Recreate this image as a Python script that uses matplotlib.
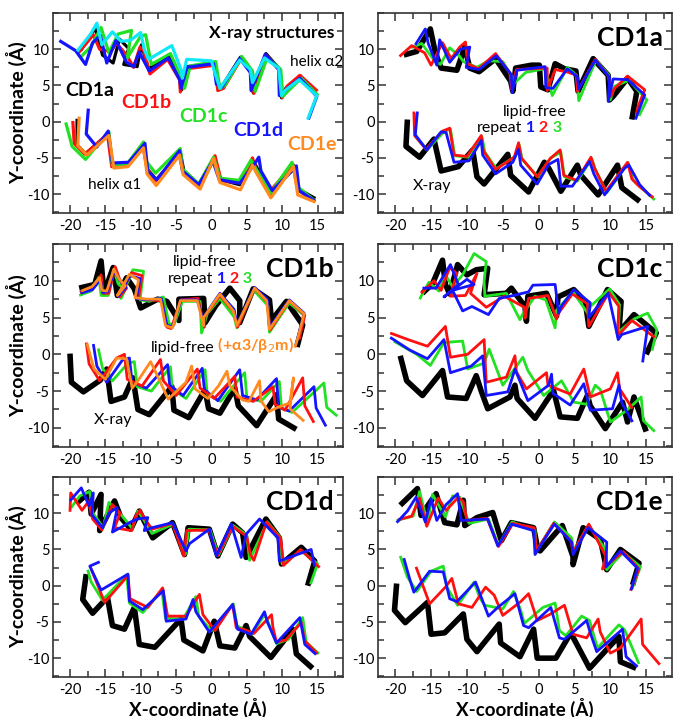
import matplotlib
matplotlib.use("Agg")
import matplotlib.pyplot as plt
from matplotlib.ticker import MultipleLocator

plt.rcParams['font.family'] = ['Lato', 'Open Sans', 'DejaVu Sans']
plt.rcParams['axes.unicode_minus'] = False

# colours
BLACK = '#000000'
RED = '#ff1010'
GREEN = '#22e022'
BLUE = '#1414ff'
ORANGE = '#ff8a1f'
CYAN = '#10e8f8'

# ---------------- panel 1: X-ray structures (helix a2 top, helix a1 bottom) ----------------
p1_a2_cd1a = ([-18.5,-16.4,-15.4,-13.9,-13.0,-11.7,-12.4,-10.5,-9.9,-8.9,-6.0,-4.4,-4.2,-3.4,0.4,0.9,1.5,4.1,5.6,5.9,7.7,9.6,9.9,10.5,12.6,14.8],
              [9.8,12.9,9.2,8.1,11.4,10.1,7.9,7.6,10.6,7.3,9.2,6.1,4.4,7.6,8.1,4.6,4.9,8.9,6.9,4.0,9.4,7.3,3.3,4.6,6.3,3.7])
p1_a2_cd1b = ([-18.8,-16.7,-15.8,-14.3,-13.4,-12.0,-11.0,-10.1,-9.6,-8.7,-6.2,-4.5,-4.4,-3.6,0.5,0.9,1.7,4.2,5.7,6.0,7.8,9.7,10.0,10.7,12.5,15.0],
              [9.5,12.0,10.0,9.7,10.8,9.2,7.5,10.3,9.9,6.6,8.6,5.8,4.1,7.3,7.8,4.3,4.6,8.7,6.6,3.9,9.1,7.0,3.3,4.9,6.4,4.2])
p1_a2_cd1c = ([-18.6,-17.0,-15.6,-14.5,-13.2,-11.3,-11.9,-10.0,-9.3,-8.5,-5.8,-4.0,-3.8,-3.0,0.6,1.2,1.9,4.3,5.8,6.2,7.9,9.8,10.1,10.8,12.7,15.1],
              [8.8,10.4,13.0,9.5,12.1,12.6,8.8,11.8,12.0,7.9,9.4,5.5,4.6,7.7,8.3,4.6,5.0,9.0,7.0,4.2,8.9,7.2,3.5,4.2,6.0,3.6])
p1_a2_cd1d = ([-21.5,-19.2,-17.8,-16.8,-15.7,-14.8,-13.5,-12.0,-11.0,-10.2,-8.8,-6.1,-4.5,-4.3,-3.5,0.3,0.7,1.5,4.0,5.5,5.6,7.6,9.5,9.6,10.4,12.5,14.9,13.7],
              [11.2,9.8,7.9,10.9,11.9,8.1,11.2,8.2,7.6,9.6,7.0,8.8,5.8,4.6,7.5,8.0,5.2,4.8,8.7,6.8,4.3,9.3,7.2,3.6,4.3,6.0,3.5,0.3])
p1_a2_cd1e = ([-19.0,-17.0,-16.2,-15.5,-14.0,-12.8,-11.5,-10.0,-9.5,-8.9,-5.6,-4.3,-4.1,-3.5,0.0,0.6,1.2,4.0,5.5,5.8,7.5,9.5,9.9,10.4,12.4,14.9,13.6],
              [9.7,12.2,13.6,10.6,12.4,11.1,11.2,12.3,10.0,8.6,10.5,7.2,6.0,8.6,8.4,6.4,4.6,8.5,7.2,5.4,8.8,7.4,3.6,4.3,5.8,3.6,0.3])

p1_a1_cd1a = ([-19.0,-19.0,-17.8,-14.6,-14.0,-11.8,-9.6,-9.0,-7.8,-4.4,-3.9,-1.6,0.4,1.3,4.0,6.0,6.4,8.4,11.6,12.3,14.7],
              [0.4,-3.2,-4.4,-1.8,-6.0,-5.9,-3.2,-6.6,-8.0,-4.2,-6.8,-8.8,-5.1,-8.0,-8.7,-5.6,-6.3,-9.9,-6.0,-9.3,-10.6])
p1_a1_cd1b = ([-19.6,-19.4,-17.9,-14.7,-14.1,-11.7,-9.7,-9.1,-7.9,-4.6,-4.0,-1.7,0.5,1.4,4.1,5.8,6.3,8.3,11.5,12.2,14.6],
              [0.1,-3.0,-4.5,-1.7,-6.2,-5.8,-3.3,-6.5,-8.2,-4.4,-7.0,-9.0,-4.7,-8.2,-8.4,-5.0,-6.6,-9.6,-5.9,-9.4,-11.0])
p1_a1_cd1c = ([-20.6,-19.7,-17.8,-14.5,-14.0,-11.9,-9.6,-9.2,-7.9,-4.4,-4.1,-1.8,0.3,1.2,3.9,5.6,6.1,8.4,11.4,12.2,14.6],
              [-0.1,-3.4,-5.2,-1.4,-6.0,-5.8,-2.8,-5.5,-7.1,-3.7,-6.5,-8.6,-4.9,-7.8,-8.1,-5.3,-6.2,-9.8,-5.6,-9.0,-10.9])
p1_a1_cd1d = ([-17.4,-17.7,-16.2,-14.6,-14.0,-11.7,-9.4,-9.0,-7.7,-4.5,-4.1,-1.8,0.2,1.1,4.0,5.9,6.7,7.0,8.6,11.6,12.0,12.4,14.7],
              [1.8,-1.7,-3.5,-1.3,-5.7,-5.6,-3.0,-6.9,-8.0,-4.0,-6.8,-8.7,-5.4,-8.0,-8.5,-6.1,-4.9,-6.8,-9.5,-6.6,-6.1,-9.5,-11.0])
p1_a1_cd1e = ([-18.7,-18.9,-17.6,-14.5,-13.8,-11.8,-9.6,-9.1,-7.8,-4.5,-4.0,-1.6,0.3,1.2,4.1,5.8,6.2,8.4,11.6,12.2,14.7],
              [0.7,-3.3,-4.6,-1.9,-6.4,-6.2,-3.6,-7.2,-8.8,-4.6,-7.3,-9.3,-5.1,-8.4,-9.4,-6.0,-6.8,-10.5,-6.2,-10.1,-11.1])

# ---------------- panel 2: CD1a (X-ray vs lipid-free repeats) ----------------
p2_a2_xray = ([-18.8,-17.0,-15.1,-14.4,-13.6,-11.4,-10.3,-9.6,-8.3,-6.0,-3.9,-3.6,-3.2,-1.0,0.1,0.3,1.3,2.3,3.6,5.2,5.5,7.6,9.7,9.9,10.4,12.4,13.7,13.0],
              [9.2,9.7,12.8,9.5,7.4,7.1,10.3,7.4,6.9,8.7,5.6,4.2,7.4,7.8,7.8,4.8,4.4,8.0,7.3,7.0,4.2,8.7,6.4,3.0,3.5,6.0,4.2,0.3])
p2_a2_rep2 = ([-19.4,-17.7,-15.9,-15.0,-13.4,-12.2,-11.0,-10.2,-9.9,-8.4,-6.0,-4.0,-3.8,-3.1,1.2,1.2,2.3,4.2,5.3,5.4,7.9,9.8,10.1,10.5,12.4,14.8,13.9,13.6],
              [9.0,10.5,9.5,7.8,10.9,8.7,10.3,11.0,8.0,7.3,9.4,6.7,4.5,7.2,7.4,4.3,7.2,6.8,6.4,4.2,8.6,6.2,3.5,4.5,6.3,4.4,2.2,1.0])
p2_a2_rep3 = ([-17.8,-16.3,-14.6,-13.7,-12.4,-11.0,-10.5,-8.6,-7.0,-5.0,-3.7,-3.4,-1.8,0.8,1.3,1.9,4.0,5.3,5.6,8.0,9.8,10.0,10.6,12.6,15.1,14.0],
              [10.2,10.8,8.5,7.9,10.2,9.0,8.3,7.5,8.4,8.3,6.2,5.3,6.8,7.3,6.0,3.6,7.5,6.4,2.9,8.5,6.4,3.0,4.9,5.7,3.0,0.8])
p2_a2_rep1 = ([-17.2,-15.8,-15.4,-14.2,-13.8,-12.4,-10.9,-9.6,-10.1,-8.3,-5.9,-3.8,-3.7,-3.0,0.9,1.0,2.0,4.0,5.4,5.6,7.9,9.9,9.7,10.4,12.4,14.8,13.5],
              [10.6,12.8,10.8,7.8,11.3,8.2,10.0,10.3,7.5,7.2,9.1,6.5,4.0,7.1,7.6,4.7,4.6,7.3,6.2,4.5,8.5,6.1,2.8,5.9,5.8,3.7,0.3])

p2_a1_xray = ([-18.3,-18.5,-16.6,-14.6,-13.6,-11.2,-9.2,-8.6,-7.6,-4.3,-3.9,-1.4,0.8,1.4,3.1,5.4,5.9,8.3,11.0,11.6,14.1],
              [0.3,-3.4,-4.9,-2.4,-6.8,-6.2,-3.9,-7.6,-8.6,-4.5,-7.4,-9.7,-5.6,-6.4,-9.6,-6.0,-7.4,-10.1,-6.0,-9.1,-11.0])
p2_a1_rep2 = ([-17.4,-17.3,-15.7,-13.4,-12.4,-11.8,-10.0,-8.0,-7.7,-6.0,-3.4,-2.8,-2.4,-0.2,1.6,3.0,3.5,5.3,7.3,7.8,9.4,12.4,13.0,14.0,16.0],
              [1.4,-1.9,-3.8,-1.3,-0.9,-4.6,-4.8,-1.9,-4.0,-6.6,-4.9,-2.9,-5.0,-7.6,-5.1,-3.9,-7.4,-8.1,-4.9,-6.4,-9.6,-5.6,-7.9,-8.9,-10.5])
p2_a1_rep3 = ([-17.2,-17.2,-15.6,-13.2,-12.3,-11.7,-9.8,-7.9,-7.5,-5.9,-3.3,-2.7,-2.3,-0.1,1.7,3.1,3.6,5.4,7.4,7.9,9.5,12.5,13.2,14.3,16.2],
              [1.2,-2.0,-3.9,-1.4,-1.0,-4.7,-4.9,-2.1,-4.2,-6.5,-4.8,-3.2,-5.2,-7.6,-5.0,-4.2,-7.6,-8.2,-5.1,-6.6,-9.8,-5.7,-8.1,-9.1,-10.8])
p2_a1_rep1 = ([-16.9,-17.2,-15.6,-13.6,-12.9,-11.8,-9.7,-8.0,-7.8,-6.0,-3.6,-2.8,-2.5,-0.2,1.4,2.7,3.1,4.7,7.1,7.7,9.2,12.0,12.6,14.1,15.6],
              [1.4,-1.8,-3.9,-1.4,-1.5,-5.6,-5.4,-2.6,-4.6,-7.2,-5.6,-3.8,-6.0,-8.6,-5.9,-5.2,-8.9,-8.9,-5.5,-7.2,-10.1,-6.4,-6.0,-8.7,-10.3])

# ---------------- panel 3: CD1b ----------------
p3_a2_xray = ([-18.7,-16.5,-15.6,-15.2,-13.9,-13.3,-12.0,-10.9,-10.0,-7.6,-6.3,-4.6,-4.6,-1.1,-0.9,0.6,2.6,4.0,4.0,5.9,8.2,8.5,10.6,12.9,12.1],
              [9.0,9.5,12.7,8.3,11.8,8.0,10.4,8.9,6.3,7.5,7.2,4.6,7.5,7.6,4.3,6.6,9.0,7.3,4.3,8.9,7.4,4.6,7.2,4.0,1.0])
p3_a2_rep3 = ([-18.7,-17.0,-15.9,-15.6,-14.6,-13.8,-13.2,-12.2,-12.8,-11.1,-9.6,-10.1,-8.8,-6.8,-6.0,-5.3,-4.1,-1.6,-1.4,-0.6,1.2,3.2,3.6,6.0,8.0,8.2,11.0,13.2],
              [8.0,8.6,10.5,8.0,8.0,11.5,9.6,8.8,7.6,11.5,11.3,7.4,7.2,7.8,4.2,4.0,7.2,7.2,2.9,5.5,7.6,5.1,3.6,8.7,6.6,3.0,7.0,5.2])
p3_a2_rep2 = ([-18.6,-16.8,-15.6,-15.3,-14.5,-13.6,-12.9,-12.0,-13.0,-11.3,-9.8,-10.3,-9.0,-7.0,-6.3,-5.7,-4.3,-1.9,-1.0,-0.9,1.2,3.2,3.7,6.1,7.9,8.3,11.0,13.2,12.4],
              [8.4,9.0,10.8,8.3,8.3,11.9,10.0,9.0,7.8,11.1,10.7,7.6,7.4,7.3,3.7,3.5,7.4,7.6,3.7,5.2,8.0,5.7,3.7,9.0,7.1,3.3,7.3,5.3,2.0])
p3_a2_rep1 = ([-18.5,-16.8,-15.7,-15.4,-14.7,-13.7,-13.0,-12.1,-13.2,-11.5,-10.1,-10.6,-9.1,-7.1,-6.3,-5.5,-4.3,-2.0,-1.0,-1.0,1.2,3.2,3.6,6.1,7.9,8.2,11.0,13.1,12.3,11.9],
              [8.3,8.8,10.2,8.4,8.5,11.4,10.1,9.1,7.9,10.7,10.3,7.6,7.4,7.6,4.0,3.7,7.4,7.4,4.0,5.2,8.3,6.1,4.0,9.1,7.5,3.6,7.4,5.6,2.6,1.2])
p3_a2_b2m = ([-18.4,-16.9,-15.8,-15.5,-14.8,-13.8,-13.1,-12.2,-13.3,-11.6,-10.3,-10.8,-9.2,-7.2,-6.5,-5.5,-4.4,-2.0,-1.1,-1.1,1.2,3.1,3.6,6.1,7.8,8.2,11.0,13.1,12.3,11.8],
             [8.6,9.2,10.4,8.7,8.6,11.6,10.3,9.3,8.0,10.9,10.1,7.7,7.5,7.5,3.9,3.6,7.3,7.3,3.9,5.0,8.2,5.9,3.9,9.0,7.3,3.4,7.3,5.5,2.5,0.9])

p3_a1_xray = ([-20.0,-19.8,-18.1,-15.7,-14.8,-14.2,-12.3,-11.1,-10.4,-8.8,-5.6,-5.3,-3.2,-0.9,-0.4,1.2,3.3,3.8,6.4,9.2,9.5,12.0],
              [0.1,-3.8,-5.1,-3.5,-2.0,-6.4,-5.8,-3.2,-7.5,-8.2,-4.4,-7.6,-8.6,-4.8,-7.4,-8.0,-4.6,-7.0,-9.7,-5.5,-8.8,-10.2])
p3_a1_rep3 = ([-16.0,-15.4,-14.0,-11.8,-10.9,-10.5,-8.5,-5.8,-5.5,-3.6,-0.9,-0.6,1.3,4.7,5.0,7.0,9.6,9.9,11.4,15.9,16.3,17.8],
              [0.8,-1.9,-3.6,-1.2,-1.0,-4.4,-5.0,-1.7,-4.8,-6.0,-2.1,-5.4,-6.4,-2.5,-5.8,-6.4,-3.7,-7.3,-7.9,-3.9,-7.2,-8.4])
p3_a1_rep1 = ([-16.7,-16.2,-14.8,-12.6,-11.6,-11.2,-9.2,-6.2,-5.9,-4.0,-1.3,-1.0,0.9,4.0,4.4,6.4,9.2,9.5,11.0,14.5,14.8,16.2],
              [1.4,-1.6,-3.8,-0.8,-0.5,-3.8,-4.6,-1.4,-4.2,-5.6,-1.9,-4.8,-6.3,-2.1,-5.6,-6.2,-3.3,-7.2,-7.7,-4.4,-7.3,-9.8])
p3_a1_rep2 = ([-17.7,-17.3,-15.8,-13.4,-12.3,-11.9,-9.8,-7.2,-6.8,-5.0,-2.0,-1.6,0.4,3.3,3.6,5.9,8.7,9.0,10.4,12.9,13.2,14.5],
              [1.6,-1.3,-3.6,-0.5,0.0,-3.4,-4.3,-0.7,-3.6,-5.6,-2.0,-4.6,-6.0,-3.0,-5.8,-6.4,-4.4,-6.8,-7.6,-3.2,-7.0,-9.3])
p3_a1_b2m = ([-17.6,-16.6,-15.0,-13.4,-12.0,-11.2,-10.4,-8.6,-7.9,-6.1,-3.6,-2.8,-2.3,-0.5,1.0,2.2,2.6,4.4,5.3,6.8,7.0,8.1,9.4,11.1,11.6,11.1,13.1],
             [1.5,-2.0,-3.4,-0.5,-0.6,-4.6,-3.6,-1.0,-2.4,-6.1,-3.8,-1.6,-4.7,-6.0,-4.3,-2.3,-4.3,-6.2,-6.4,-3.6,-6.3,-7.8,-7.2,-6.6,-3.2,-7.4,-9.1])

# ---------------- panel 4: CD1c ----------------
p4_a2_xray = ([-16.2,-14.8,-13.4,-13.0,-12.4,-11.3,-10.0,-8.7,-7.1,-7.6,-4.5,-3.8,-1.9,-1.7,-1.5,1.1,2.5,2.7,4.9,6.5,7.0,9.6,11.5,11.2,13.3,16.4,15.0],
              [8.3,9.6,12.8,9.5,8.2,12.2,10.8,11.5,11.7,8.1,8.3,9.0,6.5,4.5,7.9,8.3,5.2,7.8,8.8,7.2,3.8,8.8,7.2,3.0,5.4,2.9,0.0])
p4_a2_rep3 = ([-16.6,-15.3,-13.9,-13.0,-12.0,-10.6,-9.0,-7.3,-7.6,-7.5,-4.5,-2.6,-2.2,-0.5,1.0,2.3,2.5,4.8,6.9,7.2,9.9,11.3,11.1,13.3,15.2,16.5,15.8],
              [7.5,9.8,8.6,10.8,9.2,10.8,13.7,12.6,10.0,7.9,8.3,4.7,5.5,7.9,7.4,3.6,6.0,8.5,5.5,6.5,8.9,6.7,3.0,4.8,5.6,3.3,0.5])
p4_a2_rep2 = ([-16.4,-14.6,-13.6,-12.4,-11.4,-12.3,-10.2,-8.6,-9.5,-7.3,-4.8,-2.0,-1.9,-1.4,1.3,2.5,2.7,4.7,6.8,7.0,9.8,11.2,11.0,13.0,16.2],
              [8.3,10.0,8.7,11.8,11.0,7.9,8.0,11.0,8.3,6.4,7.9,6.4,4.9,7.6,8.0,4.8,5.5,8.2,6.9,3.8,8.4,6.5,2.5,4.6,2.3])
p4_a2_rep1 = ([-16.2,-14.3,-12.3,-11.2,-13.2,-10.0,-9.0,-12.0,-10.6,-9.3,-7.0,-5.5,-3.5,-1.4,-0.8,2.3,2.8,3.2,4.9,7.2,7.0,9.7,11.1,11.6,15.2,14.5],
              [9.0,9.0,12.2,9.5,7.8,10.2,9.5,8.7,5.9,6.5,5.4,7.6,8.0,8.5,9.4,9.5,5.6,6.6,8.8,7.0,5.0,8.3,2.0,2.7,3.8,-1.1])

p4_a1_xray = ([-19.3,-18.4,-16.2,-13.4,-12.7,-10.1,-8.7,-8.0,-7.1,-4.0,-3.3,-3.0,-0.5,1.6,2.0,3.0,5.4,6.8,7.2,9.3,11.7,12.4,13.3,15.0],
              [-0.2,-3.6,-5.6,-2.2,-5.8,-6.0,-2.9,-5.0,-7.4,-5.8,-4.2,-6.0,-8.7,-5.6,-4.6,-8.5,-8.7,-5.6,-7.0,-10.1,-6.5,-9.2,-5.8,-10.5])
p4_a1_rep3 = ([-20.2,-17.0,-15.1,-13.2,-10.6,-9.9,-7.6,-6.9,-5.0,-2.2,-1.5,0.7,3.2,4.9,6.7,7.9,8.6,10.0,12.3,14.3,14.6,16.2],
              [1.8,0.0,-1.5,1.6,1.8,-2.0,-1.2,0.7,-4.2,-0.4,-2.2,-5.6,-3.6,-6.5,-6.8,-4.2,-4.8,-9.2,-7.6,-5.8,-9.0,-10.5])
p4_a1_rep2 = ([-20.7,-18.2,-15.5,-13.0,-12.3,-9.9,-7.6,-7.3,-4.5,-3.3,-3.1,-1.7,1.1,1.3,4.4,6.3,7.2,10.0,11.0,11.3,13.1],
              [2.9,2.0,1.1,3.8,-0.4,0.0,2.0,-3.8,-3.1,-0.2,-2.4,-4.7,-2.5,-4.2,-5.4,-2.0,-5.8,-4.7,-2.5,-4.7,-7.4])
p4_a1_rep1 = ([-20.7,-18.0,-15.5,-13.2,-12.3,-9.4,-7.8,-7.3,-4.3,-3.3,-1.5,1.4,1.8,2.0,4.4,6.3,7.2,10.3,11.2,11.6,13.1],
              [2.3,0.6,-0.6,2.0,-2.5,-1.6,-0.2,-5.6,-5.1,-2.0,-6.3,-4.2,-2.7,-5.3,-6.9,-4.0,-7.6,-7.4,-4.2,-6.6,-9.2])

# ---------------- panel 5: CD1d ----------------
p5_a2_xray = ([-18.9,-17.3,-17.0,-15.6,-15.8,-13.7,-12.8,-11.4,-10.2,-9.8,-8.3,-5.5,-3.8,-3.3,-0.3,0.9,3.0,4.4,4.9,7.7,9.6,9.9,12.7,14.6,13.6],
              [11.5,12.9,9.9,12.6,7.6,11.7,9.4,7.8,10.3,9.5,6.6,8.7,4.3,8.0,7.8,4.1,8.5,7.3,3.9,9.2,6.6,3.0,5.3,3.4,0.0])
p5_a2_rep3 = ([-19.9,-18.6,-17.2,-16.8,-15.3,-14.5,-12.7,-11.2,-10.4,-9.7,-8.4,-5.4,-3.7,-3.2,-0.2,1.0,3.1,5.0,5.4,7.9,9.7,10.0,12.7,15.0,14.0],
              [10.7,12.4,13.0,10.1,8.0,11.5,9.7,7.9,10.3,9.3,7.2,8.5,4.3,7.8,7.7,4.2,8.3,7.0,3.5,8.8,6.7,3.0,4.8,3.0,0.2])
p5_a2_rep2 = ([-20.0,-19.9,-18.3,-17.4,-16.8,-15.5,-14.0,-12.9,-13.7,-11.3,-10.7,-10.1,-9.4,-8.4,-5.5,-3.9,-3.5,-0.4,0.9,3.0,5.0,5.5,6.0,7.8,9.8,10.2,12.6,15.3],
              [10.2,12.8,10.4,11.6,9.2,7.7,11.2,10.0,8.0,7.6,9.6,10.4,9.2,7.8,8.6,4.1,7.6,7.7,4.2,8.2,6.8,4.3,3.5,8.8,6.5,2.8,5.0,2.5])
p5_a2_rep1 = ([-20.0,-18.4,-17.3,-16.7,-16.9,-15.4,-14.5,-13.3,-14.0,-11.4,-10.5,-9.0,-9.5,-8.4,-5.5,-3.6,-3.1,-0.3,0.3,0.7,2.8,4.2,4.9,6.8,9.4,9.6,14.1,14.6],
              [11.7,13.5,11.0,12.8,9.8,8.0,10.0,10.8,7.4,8.8,9.2,9.4,7.6,8.0,8.7,4.8,5.8,7.8,5.6,4.1,8.5,3.9,7.1,9.2,6.6,3.4,5.0,2.6])

p5_a1_xray = ([-17.7,-18.2,-16.8,-14.7,-14.0,-12.3,-10.9,-10.2,-8.0,-4.3,-3.9,-1.2,0.4,1.2,3.3,4.9,5.4,8.4,11.5,12.0,14.3],
              [1.6,-1.9,-3.8,-1.6,-5.5,-6.0,-3.0,-8.1,-8.5,-4.6,-7.5,-9.0,-4.9,-8.3,-8.6,-5.5,-7.0,-9.9,-6.0,-9.4,-11.4])
p5_a1_rep3 = ([-17.5,-17.0,-15.4,-12.0,-11.6,-9.7,-7.0,-6.5,-4.0,-2.2,-1.8,0.0,3.1,3.6,5.7,7.5,8.0,9.2,10.9,12.9,13.4,15.2],
              [2.2,0.5,-2.0,1.5,-2.4,-3.7,-0.7,-4.5,-4.6,-1.5,-4.2,-6.2,-2.5,-5.5,-6.7,-4.0,-5.0,-8.0,-7.4,-4.4,-7.8,-9.4])
p5_a1_rep2 = ([-17.0,-15.1,-11.8,-11.5,-9.0,-6.9,-6.2,-3.6,-1.7,-1.2,0.5,3.0,3.5,4.8,6.0,8.5,8.7,9.2,10.5,12.7,13.2,15.0],
              [2.3,-2.3,1.4,-1.8,-3.0,-0.3,-4.2,-4.2,-1.2,-4.0,-6.2,-2.6,-5.8,-6.1,-6.6,-4.0,-5.8,-7.8,-7.5,-5.1,-7.6,-9.4])
p5_a1_rep1 = ([-15.8,-17.2,-15.6,-11.8,-11.6,-9.7,-6.8,-6.4,-3.6,-2.6,-2.2,-0.3,3.0,3.7,5.6,7.5,7.9,9.2,12.5,13.2,14.8],
              [3.3,2.7,-0.6,1.6,-2.1,-3.3,-0.7,-4.9,-4.6,-1.9,-3.6,-6.4,-2.6,-6.0,-6.7,-3.6,-5.0,-7.9,-4.4,-8.1,-9.5])

# ---------------- panel 6: CD1e ----------------
p6_a2_xray = ([-19.3,-16.9,-16.4,-14.3,-13.1,-11.4,-10.5,-10.3,-8.6,-6.4,-5.2,-3.8,-0.7,-0.2,0.2,3.3,4.8,4.8,6.2,8.6,9.5,11.4,14.0,13.1],
              [11.1,13.4,9.7,12.7,8.7,8.4,11.8,8.3,9.4,10.1,6.2,8.7,8.0,5.5,4.8,8.3,4.0,2.9,8.0,6.4,2.2,5.0,3.1,0.1])
p6_a2_rep3 = ([-19.8,-17.5,-16.6,-15.5,-14.8,-13.0,-12.0,-11.0,-9.7,-7.0,-5.6,-3.7,-0.5,-0.4,2.2,4.6,4.9,7.0,9.3,9.5,11.8,14.2,13.0],
              [9.0,9.6,13.0,8.6,12.6,9.5,12.4,12.2,8.6,9.2,5.6,8.8,7.6,4.6,8.8,6.6,4.8,8.4,5.0,2.2,4.6,2.6,-0.5])
p6_a2_rep2 = ([-19.6,-17.7,-16.6,-15.6,-14.0,-12.9,-11.2,-10.5,-10.0,-7.2,-5.6,-3.6,-0.6,-0.3,2.1,4.5,4.8,7.0,9.4,8.9,11.8,14.0,12.8],
              [9.1,9.6,12.1,8.2,12.1,10.4,12.2,11.6,9.0,9.3,5.4,8.6,8.0,4.8,8.6,6.2,4.6,8.5,4.0,2.3,4.7,2.3,-0.7])
p6_a2_rep1 = ([-19.8,-18.3,-17.1,-15.8,-15.0,-14.2,-12.9,-11.3,-10.8,-7.1,-5.7,-3.8,-0.7,-0.5,1.4,2.2,4.6,4.8,6.9,9.5,9.4,11.4,13.8,12.9],
              [8.7,10.3,12.2,8.8,12.0,9.0,11.2,12.7,9.0,9.2,5.5,8.5,7.6,4.3,7.3,8.5,6.0,4.3,8.0,6.0,2.6,4.8,2.4,-0.6])

p6_a1_xray = ([-19.8,-20.1,-18.6,-15.5,-15.0,-13.1,-10.5,-10.0,-8.6,-5.5,-5.3,-2.6,-0.7,-0.2,2.4,4.5,4.9,7.1,9.5,11.2,11.4,13.6],
              [0.3,-3.4,-5.1,-2.3,-6.7,-6.5,-3.9,-7.4,-9.1,-5.3,-7.9,-9.8,-6.0,-10.0,-10.0,-6.5,-7.3,-11.4,-8.8,-7.0,-10.5,-11.4])
p6_a1_rep3 = ([-19.3,-18.3,-17.0,-15.0,-13.3,-12.8,-11.3,-9.0,-8.2,-7.5,-5.0,-3.5,-2.5,-2.0,0.6,2.3,2.9,3.8,6.0,7.1,8.2,11.2,12.0,14.0],
              [4.1,1.2,-0.8,2.0,2.7,-0.2,-2.7,0.5,-1.7,-2.7,-3.2,-0.8,-3.4,-5.2,-3.0,-2.4,-6.2,-6.9,-4.2,-4.8,-8.6,-5.4,-6.1,-10.8])
p6_a1_rep2 = ([-17.1,-15.2,-13.0,-12.1,-11.2,-9.3,-7.4,-6.2,-5.0,-2.5,-1.4,-0.2,1.5,3.6,4.8,6.7,8.3,8.6,10.0,11.4,14.3,14.5,16.9],
              [2.6,-2.5,-0.2,1.0,-2.5,-3.0,-0.2,-1.3,-4.1,-2.2,-1.1,-4.8,-4.0,-2.7,-6.7,-7.2,-4.6,-6.4,-9.3,-8.6,-4.6,-8.1,-10.9])
p6_a1_rep1 = ([-18.8,-18.0,-17.4,-15.2,-13.3,-12.4,-11.4,-8.8,-8.0,-7.0,-5.7,-3.3,-2.1,-1.4,1.7,2.9,3.6,6.7,7.2,8.1,11.7,12.2,13.8],
              [3.8,1.0,-0.9,2.0,1.9,-1.8,-2.2,0.5,-1.6,-4.2,-3.0,-1.1,-5.5,-5.8,-3.0,-7.2,-7.4,-4.8,-6.5,-9.1,-6.0,-9.8,-11.2])

panel_titles = ['', 'CD1a', 'CD1b', 'CD1c', 'CD1d', 'CD1e']
x_ticks = [-20, -15, -10, -5, 0, 5, 10, 15]
y_ticks = [-10, -5, 0, 5, 10]

THICK = 4.0
THIN = 2.0

W, H = 674, 717
fig = plt.figure(figsize=(W / 100, H / 100), dpi=100)

# pixel boxes (left, top, right, bottom)
boxes = [(53, 13, 343, 213), (378, 13, 672, 213),
         (53, 244, 343, 447), (378, 244, 672, 447),
         (53, 477, 343, 677), (378, 477, 672, 677)]
axes = []
for (l, t, r, b) in boxes:
    ax = fig.add_axes([l / W, 1 - b / H, (r - l) / W, (b - t) / H])
    ax.set_xlim(-22.4, 18.6)
    ax.set_ylim(-12.6, 15.0)
    ax.set_xticks(x_ticks)
    ax.set_yticks(y_ticks)
    ax.xaxis.set_minor_locator(MultipleLocator(2.5))
    ax.yaxis.set_minor_locator(MultipleLocator(2.5))
    ax.tick_params(which='both', direction='in', top=True, right=True, labelsize=10.5,
                   color='#333333')
    ax.tick_params(axis='x', pad=4)
    ax.tick_params(axis='y', pad=2.5)
    ax.tick_params(which='major', length=6, width=1.1)
    ax.tick_params(which='minor', length=4, width=1.1)
    for s in ax.spines.values():
        s.set_linewidth(1.2)
        s.set_color('#333333')
    axes.append(ax)


def draw(ax, series, color, lw):
    ax.plot(series[0], series[1], color=color, lw=lw, solid_joinstyle='round', solid_capstyle='butt')


# panel 1
ax = axes[0]
for s, c in [(p1_a2_cd1a, BLACK), (p1_a2_cd1b, RED), (p1_a2_cd1c, GREEN), (p1_a2_cd1d, BLUE), (p1_a2_cd1e, CYAN),
             (p1_a1_cd1a, BLACK), (p1_a1_cd1b, RED), (p1_a1_cd1c, GREEN), (p1_a1_cd1d, BLUE), (p1_a1_cd1e, ORANGE)]:
    draw(ax, s, c, 2.3)
ax.text(17.4, 12.2, 'X-ray structures', ha='right', va='center', fontsize=12.5, fontweight='bold')
ax.text(11.1, 8.3, 'helix α2', ha='left', va='center', fontsize=11)
ax.text(-17.5, -8.8, 'helix α1', ha='left', va='center', fontsize=11)
for name, x, y, c in [('CD1a', -20.6, 4.3, BLACK), ('CD1b', -12.7, 2.7, RED), ('CD1c', -4.5, 0.7, GREEN),
                      ('CD1d', 3.1, -1.2, BLUE), ('CD1e', 10.7, -3.1, ORANGE)]:
    ax.text(x, y, name, color=c, ha='left', va='center', fontsize=14, fontweight='bold')

# panels 2 .. 6
panel_series = [
    [(p2_a2_xray, BLACK, THICK), (p2_a2_rep3, GREEN, THIN), (p2_a2_rep2, RED, THIN), (p2_a2_rep1, BLUE, THIN),
     (p2_a1_xray, BLACK, THICK), (p2_a1_rep3, GREEN, THIN), (p2_a1_rep2, RED, THIN), (p2_a1_rep1, BLUE, THIN)],
    [(p3_a2_xray, BLACK, THICK), (p3_a2_rep3, GREEN, THIN), (p3_a2_rep2, RED, THIN), (p3_a2_rep1, BLUE, THIN), (p3_a2_b2m, ORANGE, THIN),
     (p3_a1_xray, BLACK, THICK), (p3_a1_rep3, GREEN, THIN), (p3_a1_rep1, BLUE, THIN), (p3_a1_rep2, RED, THIN), (p3_a1_b2m, ORANGE, THIN)],
    [(p4_a2_xray, BLACK, THICK), (p4_a2_rep3, GREEN, THIN), (p4_a2_rep2, RED, THIN), (p4_a2_rep1, BLUE, THIN),
     (p4_a1_xray, BLACK, THICK), (p4_a1_rep3, GREEN, THIN), (p4_a1_rep2, RED, THIN), (p4_a1_rep1, BLUE, THIN)],
    [(p5_a2_xray, BLACK, THICK), (p5_a2_rep3, GREEN, THIN), (p5_a2_rep2, RED, THIN), (p5_a2_rep1, BLUE, THIN),
     (p5_a1_xray, BLACK, THICK), (p5_a1_rep3, GREEN, THIN), (p5_a1_rep2, RED, THIN), (p5_a1_rep1, BLUE, THIN)],
    [(p6_a2_xray, BLACK, THICK), (p6_a2_rep3, GREEN, THIN), (p6_a2_rep2, RED, THIN), (p6_a2_rep1, BLUE, THIN),
     (p6_a1_xray, BLACK, THICK), (p6_a1_rep3, GREEN, THIN), (p6_a1_rep2, RED, THIN), (p6_a1_rep1, BLUE, THIN)],
]
for i, series in enumerate(panel_series):
    ax = axes[i + 1]
    for s, c, lw in series:
        draw(ax, s, c, lw)
    ax.text(17.3, 11.6, panel_titles[i + 1], ha='right', va='center', fontsize=19, fontweight='bold')


def repeat_label(ax, x, y):
    t = ax.text(x, y, 'repeat', ha='left', va='center', fontsize=11.5)
    for num, c in [(' 1', BLUE), (' 2', RED), (' 3', GREEN)]:
        t = ax.annotate(num, xy=(1, 0), xycoords=t, ha='left', va='bottom', fontsize=11.5,
                        color=c, fontweight='bold')


# panel 2 labels
ax = axes[1]
ax.text(-0.6, 1.3, 'lipid-free', ha='center', va='center', fontsize=11.5)
repeat_label(ax, -8.6, -0.9)
ax.text(-17.6, -8.9, 'X-ray', ha='left', va='center', fontsize=11.5)

# panel 3 labels
ax = axes[2]
ax.text(-1.0, 12.5, 'lipid-free', ha='center', va='center', fontsize=11.5)
repeat_label(ax, -6.2, 10.2)
t = ax.text(-8.6, 0.9, 'lipid-free', ha='left', va='center', fontsize=11.5)
ax.annotate(' (+α3/β$_2$m)', xy=(1, 0), xycoords=t, ha='left', va='bottom', fontsize=11.5,
            color=ORANGE, fontweight='bold')
ax.text(-16.6, -8.9, 'X-ray', ha='left', va='center', fontsize=11.5)

# axis labels
for ax in (axes[0], axes[2], axes[4]):
    ax.set_ylabel('Y-coordinate (Å)', fontsize=14, fontweight='bold', va='center')
    ax.yaxis.set_label_coords(-0.125, 0.5)
for ax in (axes[4], axes[5]):
    ax.set_xlabel('X-coordinate (Å)', fontsize=13.5, fontweight='bold', va='center')
    ax.xaxis.set_label_coords(0.5, -0.155)

fig.savefig('out.png', dpi=100)
